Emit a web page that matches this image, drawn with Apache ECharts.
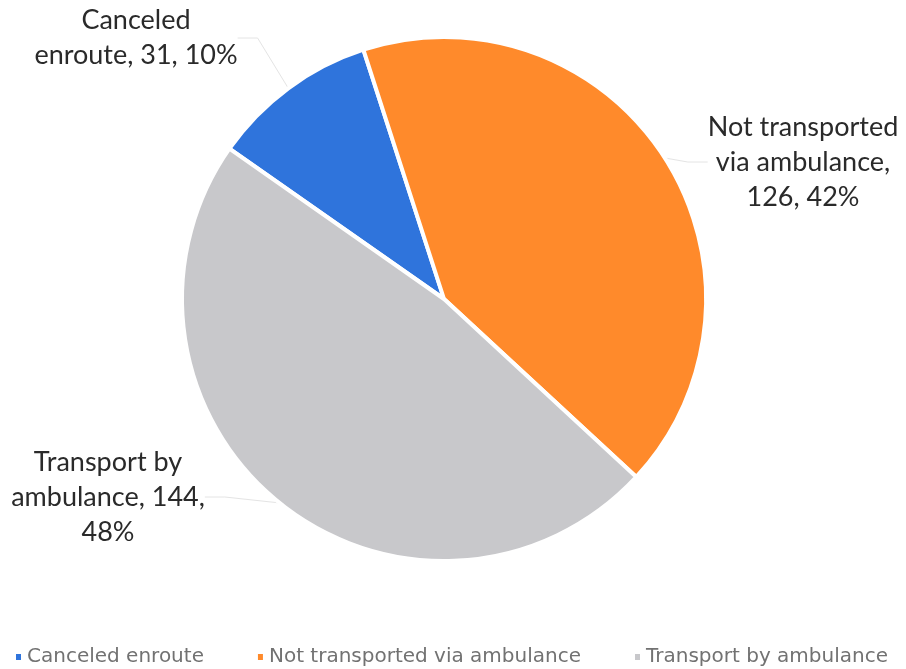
<!DOCTYPE html>
<html>
<head>
<meta charset="utf-8">
<script src="https://cdn.jsdelivr.net/npm/echarts@6/dist/echarts.min.js"></script>
<style>
  html, body { margin: 0; padding: 0; background: #fff; }
  #chart { width: 906px; height: 669px; }
</style>
</head>
<body>
<div id="chart"></div>
<script>
// Outcome categories and call counts
const categories = ['Canceled enroute', 'Not transported via ambulance', 'Transport by ambulance'];
const counts = [31, 126, 144];
const sliceColors = ['#2F74DC', '#FF8A2B', '#C8C8CB'];

// How each outside label wraps: [name, separator after name, separator after count]
const labelText = [
  ['Canceled\nenroute', ', ', ', '],
  ['Not transported\nvia ambulance', ',\n', ', '],
  ['Transport by\nambulance', ', ', ',\n']
];
// Where each label block sits (center x, center y)
const labelSpots = [[136, 38], [803, 162], [108, 497]];

const chart = echarts.init(document.getElementById('chart'), null, { renderer: 'canvas' });

chart.setOption({
  animation: false,
  backgroundColor: '#ffffff',
  textStyle: { fontFamily: 'Lato, "Open Sans", sans-serif' },
  legend: {
    top: 642,
    left: 9,
    itemWidth: 7,
    itemHeight: 8,
    itemGap: 52,
    icon: 'rect',
    textStyle: { color: '#727272', fontSize: 20, fontFamily: '"DejaVu Sans", sans-serif' },
    data: categories
  },
  series: [{
    type: 'pie',
    center: [444, 299],
    radius: 262,
    startAngle: 145,
    clockwise: true,
    percentPrecision: 0,
    itemStyle: { borderColor: '#ffffff', borderWidth: 4 },
    label: {
      show: true,
      position: 'outside',
      color: '#2a2a2a',
      fontSize: 27,
      lineHeight: 35,
      align: 'center',
      fontFamily: 'Lato, "Open Sans", sans-serif',
      formatter: function (p) {
        const t = labelText[p.dataIndex];
        return t[0] + t[1] + p.value + t[2] + p.percent + '%';
      }
    },
    labelLine: {
      show: true,
      length: 8,
      length2: 20,
      lineStyle: { color: '#e4e4e4', width: 1 }
    },
    labelLayout: function (params) {
      const s = labelSpots[params.dataIndex];
      return { x: s[0], y: s[1], align: 'center', verticalAlign: 'middle' };
    },
    data: categories.map(function (name, i) {
      return { name: name, value: counts[i], itemStyle: { color: sliceColors[i] } };
    })
  }]
});
</script>
</body>
</html>
